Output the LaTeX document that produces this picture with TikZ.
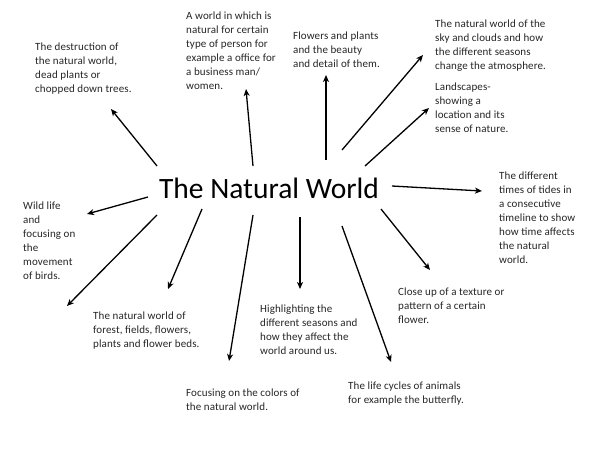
\documentclass[tikz,border=0pt]{standalone}
\usepackage{fontspec}
\setmainfont{Carlito}
\newfontfamily\notefont[LetterSpace=1.0]{Carlito}
\usetikzlibrary{arrows.meta}
\tikzset{
  note/.style={anchor=north west, align=left, inner sep=0pt, text=black!85,
    font=\notefont\fontsize{11}{14}\selectfont},
  arr/.style={draw=black, line width=1.3pt, -{Stealth[length=7pt,width=6pt,inset=2pt]}}
}
\begin{document}
\begin{tikzpicture}[x=1pt,y=-1pt]
\useasboundingbox (0,0) rectangle (600,450);
\fill[white] (0,0) rectangle (600,450);
\node[anchor=base, inner sep=0pt, font=\fontsize{29.5}{36}\selectfont] (title) at (269,198) {The Natural World};

\node[note] (destr) at (35,43) {The destruction of\\the natural world,\\dead plants or\\chopped down trees.};
\node[note] (office) at (186,12) {A world in which is\\natural for certain\\type of person for\\example a office for\\a business man/\\women.};
\node[note] (flowers) at (293,32) {Flowers and plants\\and the beauty\\and detail of them.};
\node[note] (sky) at (435,20) {The natural world of the\\sky and clouds and how\\the different seasons\\change the atmosphere.};
\node[note] (land) at (435,83) {Landscapes-\\showing a\\location and its\\sense of nature.};
\node[note] (tides) at (499,172) {The different\\times of tides in\\a consecutive\\timeline to show\\how time affects\\the natural\\world.};
\node[note] (close) at (398,288) {Close up of a texture or\\pattern of a certain\\flower.};
\node[note] (life) at (348,382) {The life cycles of animals\\for example the butterfly.};
\node[note] (colors) at (186,389) {Focusing on the colors of\\the natural world.};
\node[note] (highl) at (260,305) {Highlighting the\\different seasons and\\how they affect the\\world around us.};
\node[note] (forest) at (93,312) {The natural world of\\forest, fields, flowers,\\plants and flower beds.};
\node[note] (wild) at (23,202) {Wild life\\and\\focusing on\\the\\movement\\of birds.};

% arrow tails and heads
\coordinate (t1) at (157,166); \coordinate (h1) at (111,109);
\coordinate (t2) at (253,166); \coordinate (h2) at (246,89);
\coordinate (t3) at (326,160); \coordinate (h3) at (326,75);
\coordinate (t4) at (342,150); \coordinate (h4) at (423,55);
\coordinate (t5) at (365,166); \coordinate (h5) at (429,108);
\coordinate (t6) at (392,186); \coordinate (h6) at (482,191);
\coordinate (t7) at (381,209); \coordinate (h7) at (430,270);
\coordinate (t8) at (342,226); \coordinate (h8) at (391,362);
\coordinate (t9) at (300,217); \coordinate (h9) at (300,289);
\coordinate (t10) at (253,215); \coordinate (h10) at (229,361);
\coordinate (t11) at (202,209); \coordinate (h11) at (168,289);
\coordinate (t12) at (157,215); \coordinate (h12) at (67,306);
\coordinate (t13) at (148,197); \coordinate (h13) at (87,214);

\foreach \i in {1,...,13} { \draw[arr] (t\i) -- (h\i); }
\end{tikzpicture}
\end{document}
